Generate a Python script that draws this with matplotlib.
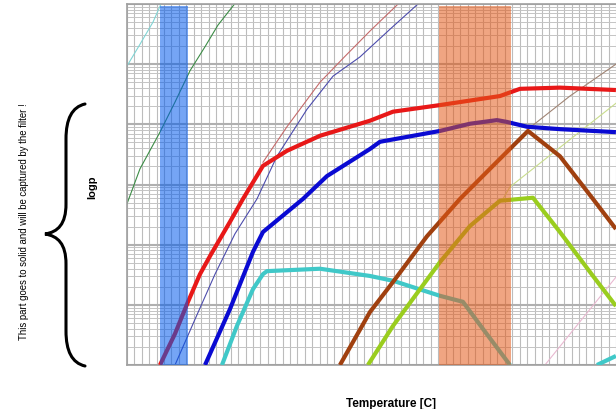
import numpy as np
import matplotlib
matplotlib.use('Agg')
import matplotlib.pyplot as plt
from matplotlib.path import Path
from matplotlib.patches import PathPatch
from matplotlib.ticker import MultipleLocator, LogLocator, NullFormatter

plt.rcParams['font.family'] = ['Liberation Sans', 'DejaVu Sans']

# --- data: x in grid units of temperature, y as log10(p) ---
x_cyan_thin = [0, 1.75, 3.51, 4.59]
y_cyan_thin = [4.97, 5.33, 5.70, 6.00]

x_green_thin = [0, 1.75, 4.45, 6.48, 8.50, 10.53, 12.28, 14.71]
y_green_thin = [2.68, 3.26, 3.87, 4.37, 4.89, 5.29, 5.65, 6.03]

x_red = [4.45, 6.48, 8.23, 9.85, 11.20, 13.90, 15.65, 18.35, 21.59, 26.05,
         32.79, 35.90, 42.24, 50.34, 53.04, 58.43, 65.99]
y_red = [0, 0.52, 1.05, 1.51, 1.81, 2.38, 2.76, 3.31, 3.56, 3.81,
         4.06, 4.21, 4.32, 4.47, 4.59, 4.61, 4.57]

x_red_thin = [18.35, 21.59, 26.05, 29.42, 32.79, 36.84]
y_red_thin = [3.37, 3.96, 4.70, 5.13, 5.55, 6.03]

x_navy_thin = [6.48, 9.18, 11.88, 14.57, 17.54, 20.24, 24.29, 27.80, 31.44, 35.49, 39.54]
y_navy_thin = [0, 0.76, 1.51, 2.18, 2.76, 3.47, 4.25, 4.80, 5.12, 5.58, 6.03]

x_blue = [10.53, 13.90, 17.00, 18.35, 23.75, 26.99, 32.79, 34.14, 42.24, 46.29,
          49.93, 51.28, 53.98, 58.43, 65.99]
y_blue = [0, 0.93, 1.88, 2.21, 2.76, 3.14, 3.59, 3.71, 3.89, 4.01,
          4.07, 4.04, 3.96, 3.92, 3.87]

x_brown = [28.74, 32.79, 35.90, 40.49, 44.94, 49.39, 54.12, 58.43, 62.89, 65.99]
y_brown = [0, 0.88, 1.38, 2.14, 2.76, 3.31, 3.89, 3.47, 2.76, 2.26]

x_brown_thin = [54.12, 59.78, 65.99]
y_brown_thin = [3.92, 4.47, 5.00]

x_lime = [32.52, 35.90, 42.24, 46.29, 50.34, 54.79, 58.43, 62.89, 65.99]
y_lime = [0, 0.65, 1.71, 2.31, 2.73, 2.78, 2.21, 1.48, 0.98]

x_lime_thin = [50.74, 51.69, 65.99]
y_lime_thin = [2.76, 2.96, 4.35]

x_cyan = [12.82, 14.84, 17.00, 18.35, 18.89, 26.05, 32.79, 35.90, 42.24, 45.34, 48.04, 51.69]
y_cyan = [0, 0.65, 1.26, 1.51, 1.56, 1.60, 1.48, 1.40, 1.15, 1.05, 0.60, 0]

x_cyan_right = [63.43, 65.99]
y_cyan_right = [0, 0.15]

x_pink_thin = [56.41, 65.99]
y_pink_thin = [0, 1.46]

blue_band = (4.45, 8.23)
orange_band = (42.11, 51.82)

fig = plt.figure(figsize=(6.16, 4.10), dpi=100)
ax = fig.add_axes([127 / 616, 44 / 410, 489 / 616, 361 / 410])

thin_lines = [
    (x_cyan_thin, y_cyan_thin, '#80d4d4'),
    (x_green_thin, y_green_thin, '#3c8c46'),
    (x_red_thin, y_red_thin, '#c46a6a'),
    (x_navy_thin, y_navy_thin, '#4c4cac'),
    (x_brown_thin, y_brown_thin, '#a08474'),
    (x_lime_thin, y_lime_thin, '#c8dc8c'),
    (x_pink_thin, y_pink_thin, '#e8b8d0'),
]
for xs, ys, c in thin_lines:
    ax.plot(xs, 10 ** np.array(ys), color=c, lw=0.8, zorder=2)

thick_lines = [
    (x_cyan, y_cyan, '#40c8c8'),
    (x_cyan_right, y_cyan_right, '#40c8c8'),
    (x_lime, y_lime, '#9acd1e'),
    (x_brown, y_brown, '#a0400f'),
    (x_blue, y_blue, '#0a0ad2'),
    (x_red, y_red, '#e81818'),
]
for xs, ys, c in thick_lines:
    ax.plot(xs, 10 ** np.array(ys), color=c, lw=3.0, zorder=3,
            solid_joinstyle='round', solid_capstyle='butt')

# translucent bands sit on top of the curves (curves show through tinted)
ax.axvspan(*blue_band, ymin=0, ymax=0.9945, color='#0059ed', alpha=0.54, lw=0, zorder=4)
ax.axvspan(*orange_band, ymin=0, ymax=0.9945, color='#e45918', alpha=0.54, lw=0, zorder=4)

ax.set_yscale('log')
ax.set_ylim(1, 1e6)
ax.set_xlim(0, 66)
ax.xaxis.set_major_locator(MultipleLocator(1))
ax.yaxis.set_major_locator(LogLocator(base=10, numticks=10))
ax.yaxis.set_minor_locator(LogLocator(base=10, subs=np.arange(2, 10), numticks=20))
ax.yaxis.set_minor_formatter(NullFormatter())
ax.tick_params(which='both', length=0, labelbottom=False, labelleft=False)
ax.grid(True, axis='x', which='major', color='#bcbcbc', lw=0.8, zorder=0)
ax.grid(True, axis='y', which='major', color='#b0b0b0', lw=1.5, zorder=0)
ax.grid(True, axis='y', which='minor', color='#c4c4c4', lw=0.7, zorder=0)
ax.set_axisbelow(True)
for side in ['top', 'left', 'bottom']:
    ax.spines[side].set_color('#a0a0a0')
    ax.spines[side].set_linewidth(1.2)
ax.spines['right'].set_visible(False)

# annotations on the left
fig.text(391 / 616, 1 - 404 / 410, 'Temperature [C]', ha='center', va='center',
         fontsize=8.5, fontweight='bold')
fig.text(24 / 616, 1 - 222 / 410, 'This part goes to solid and will be captured by the filter !',
         rotation=90, ha='center', va='center', fontsize=6.9)
fig.text(92 / 616, 1 - 187 / 410, 'logp', rotation=90, ha='center', va='center',
         fontsize=8, fontweight='bold')

# curly brace, drawn in pixel coordinates
pts = [(85, 105), (72, 108), (66, 120), (66, 140),
       (66, 205), (66, 225), (58, 233), (45, 235),
       (58, 237), (66, 245), (66, 265),
       (66, 332), (66, 352), (72, 364), (85, 367)]
codes = [Path.MOVETO, Path.CURVE4, Path.CURVE4, Path.CURVE4,
         Path.LINETO, Path.CURVE4, Path.CURVE4, Path.CURVE4,
         Path.CURVE4, Path.CURVE4, Path.CURVE4,
         Path.LINETO, Path.CURVE4, Path.CURVE4, Path.CURVE4]
verts = [(px / 616, 1 - py / 410) for px, py in pts]
brace = PathPatch(Path(verts, codes), transform=fig.transFigure, fill=False,
                  lw=2.2, edgecolor='black', capstyle='round')
fig.add_artist(brace)

fig.savefig('out.png', dpi=100)
